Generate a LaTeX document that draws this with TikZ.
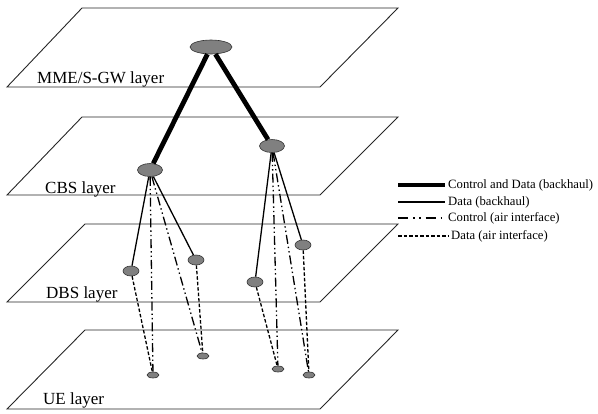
\documentclass[tikz,border=0pt]{standalone}
\usepackage{fontspec}
\setmainfont{Liberation Serif}
\usetikzlibrary{shapes.geometric}
\begin{document}
\begin{tikzpicture}[x=1pt,y=-1pt,
  plane/.style={draw=black!85,line width=0.9pt},
  station/.style={ellipse,draw=black!80,fill=black!50,line width=0.6pt,inner sep=0pt},
  bignode/.style={station,minimum width=42pt,minimum height=14pt},
  cbsnode/.style={station,minimum width=25pt,minimum height=13pt},
  dbsnode/.style={station,minimum width=16pt,minimum height=10pt},
  uenode/.style={station,minimum width=12pt,minimum height=6pt},
  layerlabel/.style={font=\fontsize{17}{20}\selectfont,anchor=base west,inner sep=0pt},
  legtext/.style={font=\fontsize{12.7}{15}\selectfont,anchor=west,inner sep=0pt},
  backbone/.style={line width=4.8pt},
  databh/.style={line width=1.3pt},
  ctrlair/.style={line width=1.3pt,dash pattern=on 9pt off 3pt on 1.4pt off 3pt on 1.4pt off 3pt},
  dataair/.style={line width=1.3pt,dash pattern=on 3.5pt off 2pt}]
\useasboundingbox (0,0) rectangle (598,413);
% planes
\draw[plane] (82,8) -- (398,8) -- (320,87) -- (7,87) -- cycle;
\draw[plane] (82,117) -- (398,117) -- (320,195) -- (7,195) -- cycle;
\draw[plane] (85,224) -- (398,224) -- (320,302) -- (7,302) -- cycle;
\draw[plane] (85,330) -- (398,330) -- (320,409) -- (7,409) -- cycle;
% labels
\node[layerlabel] (l1) at (37,83) {MME/S-GW layer};
\node[layerlabel] (l2) at (45,193) {CBS layer};
\node[layerlabel] (l3) at (46,298) {DBS layer};
\node[layerlabel] (l4) at (43,404) {UE layer};
% nodes
\node[bignode] (mme) at (211,47) {};
\node[cbsnode] (c1) at (150,170) {};
\node[cbsnode] (c2) at (272,146) {};
\node[dbsnode] (d1) at (131,271) {};
\node[dbsnode] (d2) at (196,260) {};
\node[dbsnode] (d3) at (255,282) {};
\node[dbsnode] (d4) at (303,245) {};
\node[uenode] (u1) at (153,375) {};
\node[uenode] (u2) at (203,356) {};
\node[uenode] (u3) at (278,369) {};
\node[uenode] (u4) at (309,375) {};
% connectors
\draw[backbone] (mme) -- (c1);
\draw[backbone] (mme) -- (c2);
\draw[databh] (c1) -- (d1);
\draw[databh] (c1) -- (d2);
\draw[databh] (c2) -- (d3);
\draw[databh] (c2) -- (d4);
\draw[ctrlair] (c1) -- (u1);
\draw[ctrlair] (c1) -- (u2);
\draw[ctrlair] (c2) -- (u3);
\draw[ctrlair] (c2) -- (u4);
\draw[dataair] (d1) -- (u1);
\draw[dataair] (d2) -- (u2);
\draw[dataair] (d3) -- (u3);
\draw[dataair] (d4) -- (u4);
% legend
\coordinate (a1) at (398,185); \coordinate (b1) at (445,185);
\coordinate (a2) at (398,202); \coordinate (b2) at (445,202);
\coordinate (a3) at (398,218); \coordinate (b3) at (445,218);
\coordinate (a4) at (398,236); \coordinate (b4) at (448,236);
\draw[backbone] (a1) -- (b1);
\draw[databh] (a2) -- (b2);
\draw[line width=1.3pt,dash pattern=on 10pt off 5pt on 1.5pt off 4.5pt on 1.5pt off 5pt] (a3) -- (b3);
\draw[dataair] (a4) -- (b4);
\node[legtext] (t1) at (448,185) {Control and Data (backhaul)};
\node[legtext] (t2) at (448,202) {Data (backhaul)};
\node[legtext] (t3) at (448,218) {Control (air interface)};
\node[legtext] (t4) at (451,236) {Data (air interface)};
\end{tikzpicture}
\end{document}
